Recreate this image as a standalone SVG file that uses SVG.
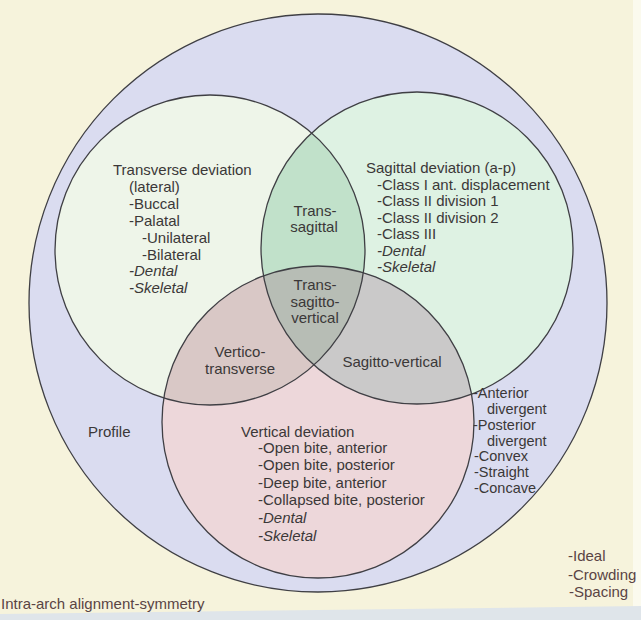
<svg xmlns="http://www.w3.org/2000/svg" width="641" height="620" viewBox="0 0 641 620">
<style>
  text { font-family: "Liberation Sans", Arial, sans-serif; font-size: 15px; fill: #3b3838; }
  .it { font-style: italic; }
  .mid { text-anchor: middle; }
  .br { fill: #5a4444; }
  .sm { font-size: 14.5px; }
  .edge { fill: none; stroke: #3f3f44; stroke-width: 1.3; }
</style>
<defs>
  <clipPath id="cL"><circle cx="210" cy="250" r="155"/></clipPath>
  <clipPath id="cR"><circle cx="417" cy="248" r="156"/></clipPath>
</defs>
<rect x="0" y="0" width="641" height="620" fill="#f6f3dc"/>
<rect x="633" y="0" width="8" height="608" fill="#fbfaee"/>
<polygon points="0,614 641,606 641,620 0,620" fill="#dfe5ea"/>

<g id="node-intra-arch">
  <circle cx="318" cy="303" r="289" fill="#dadcf0"/>
  <circle class="edge" cx="318" cy="303" r="289"/>
  <text class="br" x="1" y="609">Intra-arch alignment-symmetry</text>
  <text class="br" x="568" y="561">-Ideal</text>
  <text class="br" x="568" y="580">-Crowding</text>
  <text class="br" x="569" y="597">-Spacing</text>
</g>

<g id="node-transverse">
  <circle cx="210" cy="250" r="155" fill="#eef5e9"/>
</g>
<g id="node-sagittal">
  <circle cx="417" cy="248" r="156" fill="#def2e3"/>
</g>
<g id="node-vertical">
  <circle cx="318" cy="422" r="156" fill="#edd7da"/>
</g>

<g id="node-trans-sagittal">
  <circle cx="417" cy="248" r="156" fill="#c1e1ca" clip-path="url(#cL)"/>
</g>
<g id="node-vertico-transverse">
  <circle cx="318" cy="422" r="156" fill="#d9c8c6" clip-path="url(#cL)"/>
</g>
<g id="node-sagitto-vertical">
  <circle cx="318" cy="422" r="156" fill="#cac9c9" clip-path="url(#cR)"/>
</g>
<g id="node-trans-sagitto-vertical">
  <g clip-path="url(#cR)">
    <circle cx="318" cy="422" r="156" fill="#b7bdb5" clip-path="url(#cL)"/>
  </g>
</g>

<g id="outlines">
  <circle class="edge" cx="210" cy="250" r="155"/>
  <circle class="edge" cx="417" cy="248" r="156"/>
  <circle class="edge" cx="318" cy="422" r="156"/>
</g>

<g id="connectors"></g>

<g id="labels-transverse">
  <text x="113" y="175">Transverse deviation</text>
  <text x="129" y="192">(lateral)</text>
  <text x="129" y="209">-Buccal</text>
  <text x="129" y="226">-Palatal</text>
  <text x="142" y="243">-Unilateral</text>
  <text x="142" y="260">-Bilateral</text>
  <text class="it" x="129" y="276">-Dental</text>
  <text class="it" x="129" y="293">-Skeletal</text>
</g>

<g id="labels-sagittal">
  <text x="366" y="173">Sagittal deviation (a-p)</text>
  <text x="377" y="190">-Class I ant. displacement</text>
  <text x="377" y="206">-Class II division 1</text>
  <text x="377" y="223">-Class II division 2</text>
  <text x="377" y="239">-Class III</text>
  <text class="it" x="377" y="256">-Dental</text>
  <text class="it" x="377" y="272">-Skeletal</text>
</g>

<g id="labels-intersections">
  <text class="mid" x="315" y="216">Trans-</text>
  <text class="mid" x="314" y="232">sagittal</text>
  <text class="mid" x="315" y="290">Trans-</text>
  <text class="mid" x="315" y="307">sagitto-</text>
  <text class="mid" x="315" y="323">vertical</text>
  <text class="mid" x="240" y="357" fill="#4a4444">Vertico-</text>
  <text class="mid" x="240" y="374" fill="#4a4444">transverse</text>
  <text class="mid" x="392" y="367">Sagitto-vertical</text>
</g>

<g id="labels-vertical">
  <text x="241" y="437">Vertical deviation</text>
  <text x="258" y="453">-Open bite, anterior</text>
  <text x="258" y="470">-Open bite, posterior</text>
  <text x="258" y="488">-Deep bite, anterior</text>
  <text x="258" y="505">-Collapsed bite, posterior</text>
  <text class="it" x="258" y="523">-Dental</text>
  <text class="it" x="258" y="541">-Skeletal</text>
</g>

<g id="labels-profile">
  <text x="88" y="437">Profile</text>
  <text class="sm" x="473" y="398">-Anterior</text>
  <text class="sm" x="487" y="414">divergent</text>
  <text class="sm" x="473" y="430">-Posterior</text>
  <text class="sm" x="487" y="446">divergent</text>
  <text class="sm" x="474" y="461">-Convex</text>
  <text class="sm" x="474" y="477">-Straight</text>
  <text class="sm" x="474" y="493">-Concave</text>
</g>
</svg>
